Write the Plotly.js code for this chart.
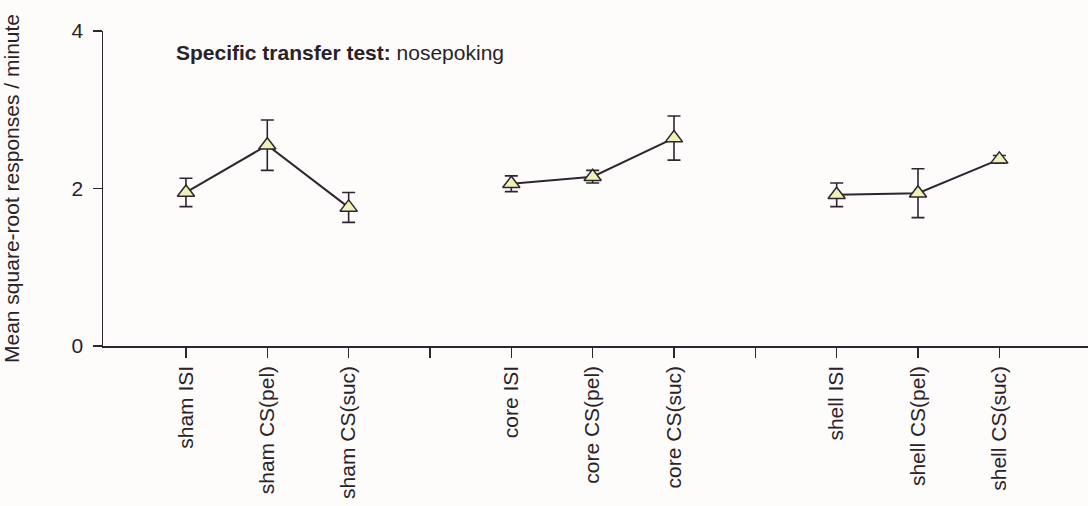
<!DOCTYPE html>
<html>
<head>
<meta charset="utf-8">
<script src="https://cdn.plot.ly/plotly-3.0.1.min.js"></script>
<style>
  html, body { margin: 0; padding: 0; background: #fdfcfb; }
  #chart { width: 1088px; height: 506px; }
</style>
</head>
<body>
<div id="chart"></div>
<script>
// ---- data ----
const groups = ["sham", "core", "shell"];
const conditions = ["ISI", "CS(pel)", "CS(suc)"];
const shamMeans  = [1.95, 2.55, 1.76];
const shamErrors = [0.18, 0.32, 0.19];
const coreMeans  = [2.06, 2.15, 2.64];
const coreErrors = [0.10, 0.08, 0.28];
const shellMeans  = [1.92, 1.94, 2.37];
const shellErrors = [0.15, 0.31, 0.05];
const yTicks = [0, 2, 4];
const titleBold = "Specific transfer test:";
const titleRest = " nosepoking";
const yTitle = "Mean square-root responses / minute";

// ---- build ----
const seriesMeans = [shamMeans, coreMeans, shellMeans];
const seriesErrors = [shamErrors, coreErrors, shellErrors];
const slot = (g, c) => g * (conditions.length + 1) + c + 1;

const ink = "#2f2530";
const textInk = "#2a2228";
const font = "Liberation Sans, Arial, sans-serif";
const fs = 21;

const traces = groups.map((g, gi) => ({
  type: "scatter",
  mode: "lines+markers",
  x: conditions.map((c, ci) => slot(gi, ci)),
  y: seriesMeans[gi],
  error_y: { type: "data", array: seriesErrors[gi], visible: true, color: ink, thickness: 1.6, width: 6.5 },
  line: { color: ink, width: 2 },
  marker: { symbol: "triangle-up", size: 15, color: "#eef2b4", line: { color: ink, width: 1.5 } },
  showlegend: false,
  hoverinfo: "skip"
}));

const tickvals = [], ticktext = [];
groups.forEach((g, gi) => {
  conditions.forEach((c, ci) => { tickvals.push(slot(gi, ci)); ticktext.push(g + " " + c); });
  if (gi < groups.length - 1) { tickvals.push(slot(gi, conditions.length)); ticktext.push(""); }
});

const layout = {
  width: 1088, height: 506,
  margin: { l: 103, r: 0, t: 31, b: 160, pad: 0 },
  paper_bgcolor: "#fdfcfb",
  plot_bgcolor: "#fdfcfb",
  font: { family: font, size: fs, color: textInk },
  xaxis: {
    range: [-0.02, 12.09],
    tickmode: "array", tickvals: tickvals, ticktext: ticktext,
    tickangle: -90,
    ticks: "outside", ticklen: 10, tickwidth: 1.5, tickcolor: ink,
    showline: true, linecolor: ink, linewidth: 1.5,
    showgrid: false, zeroline: false,
    tickfont: { family: font, size: fs, color: textInk }
  },
  yaxis: {
    range: [0, 4],
    tickmode: "array", tickvals: yTicks,
    ticks: "outside", ticklen: 9, tickwidth: 1.5, tickcolor: ink,
    ticklabelstandoff: 5,
    showline: true, linecolor: ink, linewidth: 1.5,
    showgrid: false, zeroline: false,
    tickfont: { family: font, size: fs, color: textInk },
    title: { text: yTitle, font: { family: font, size: fs, color: textInk }, standoff: 46 }
  },
  annotations: [{
    xref: "paper", yref: "paper",
    x: (174 - 103) / 985, y: 0.933,
    xanchor: "left", yanchor: "middle",
    showarrow: false,
    text: "<b>" + titleBold + "</b>" + titleRest,
    font: { family: font, size: fs, color: textInk }
  }]
};

Plotly.newPlot("chart", traces, layout, { displayModeBar: false, staticPlot: true });
</script>
</body>
</html>
